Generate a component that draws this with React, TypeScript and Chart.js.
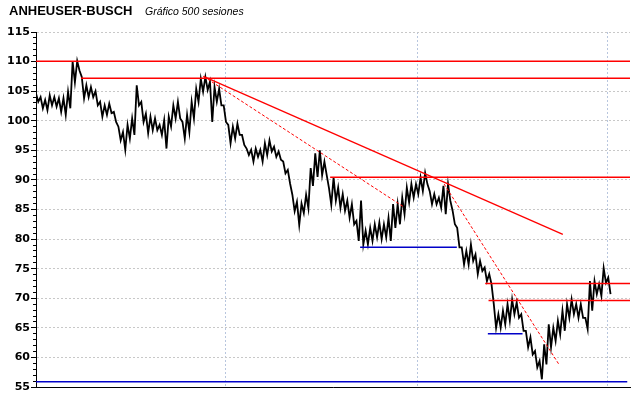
import React, { useEffect, useRef } from 'react';
import { Chart, registerables } from 'chart.js';

Chart.register(...registerables);

const TITLE = 'ANHEUSER-BUSCH';
const SUBTITLE = 'Gráfico 500 sesiones';

// one sample every SESSION_STEP sessions (session 0 .. 500)
const SESSION_STEP = 4;
const HIGHS = [
  104.6, 104.0, 103.5, 104.3, 104.0, 103.8, 103.8, 104.9, 110.0, 110.1,
  107.4, 106.0, 105.7, 105.0, 103.2, 102.6, 102.9, 101.5, 99.0, 98.1,
  99.3, 100.4, 106.0, 103.2, 101.2, 100.7, 100.4, 99.3, 100.1, 100.7,
  102.6, 103.2, 99.8, 101.0, 103.2, 105.4, 107.1, 107.4, 106.6, 105.7,
  105.4, 102.6, 99.3, 99.0, 99.5, 97.6, 95.3, 95.1, 95.3, 95.1,
  96.2, 96.7, 95.6, 94.8, 93.1, 91.7, 87.5, 86.3, 86.0, 87.5,
  92.0, 94.5, 95.0, 93.1, 88.6, 90.4, 88.7, 87.6, 86.5, 85.9,
  83.1, 86.5, 81.4, 81.9, 82.5, 82.8, 82.5, 83.6, 85.9, 85.9,
  87.0, 88.7, 89.3, 89.3, 90.4, 91.2, 88.1, 87.6, 87.0, 89.0,
  89.3, 84.8, 81.9, 78.6, 78.0, 79.1, 77.4, 76.3, 75.2, 74.1,
  69.0, 67.3, 67.9, 69.0, 69.8, 69.3, 67.3, 64.5, 63.4, 61.1,
  59.4, 62.2, 65.6, 65.0, 66.2, 67.9, 69.0, 69.8, 69.0, 69.0,
  66.7, 72.9, 72.9, 72.4, 75.1, 73.5,
];
const LOWS = [
  103.2, 102.1, 101.8, 102.6, 102.4, 101.5, 101.0, 102.1, 106.5, 108.5,
  103.8, 104.0, 104.0, 102.6, 100.7, 101.0, 101.3, 99.8, 96.7, 95.1,
  97.0, 97.6, 102.6, 99.8, 97.9, 98.4, 98.4, 97.6, 95.3, 99.0,
  100.4, 100.4, 97.0, 98.1, 100.4, 103.2, 104.9, 105.2, 99.8, 103.2,
  102.6, 99.8, 96.2, 97.0, 97.6, 95.9, 94.2, 93.1, 93.9, 93.1,
  94.2, 94.8, 93.9, 93.4, 91.1, 89.4, 84.7, 82.4, 84.4, 85.2,
  89.0, 90.5, 90.8, 90.8, 85.8, 86.5, 85.3, 84.8, 83.6, 82.5,
  79.7, 79.1, 79.1, 79.7, 80.3, 80.0, 80.3, 79.7, 81.9, 82.5,
  84.2, 86.2, 87.0, 87.6, 88.1, 89.3, 85.9, 85.9, 85.3, 84.2,
  86.5, 82.5, 78.6, 75.7, 75.7, 76.3, 74.1, 74.6, 72.9, 72.4,
  65.0, 65.0, 65.6, 66.2, 67.3, 66.7, 64.5, 61.7, 60.5, 58.3,
  56.3, 58.8, 61.7, 62.8, 63.9, 64.5, 66.7, 67.3, 66.7, 66.7,
  64.8, 67.9, 70.7, 70.4, 72.6, 70.7,
];

const Y_MIN = 55;
const Y_MAX = 115;
const MAJOR_TICKS = [55, 60, 65, 70, 75, 80, 85, 90, 95, 100, 105, 110, 115];
const X_MAX = 519;
const SESSION_GRID = [166, 333, 499];

// horizontal levels (price, start session, end session)
const RED_LEVELS = [110.05, 107.2, 90.45, 72.5, 69.6];
const RED_LEVEL_START = [0, 39.3, 257, 392.5, 395.4];
const RED_LEVEL_END = [519, 519, 519, 519, 519];
const BLUE_LEVELS = [78.6, 64.0, 55.9];
const BLUE_LEVEL_START = [283.2, 394.8, 0];
const BLUE_LEVEL_END = [367.7, 425.1, 516.6];

// trend lines: [session, price] endpoints
const TREND_MAIN = [[146.3, 107.5], [460.3, 80.8]];
const TREND_DOT_1 = [[146.3, 107.5], [321.1, 85.47]];
const TREND_DOT_2 = [[356.6, 89.3], [457.4, 58.67]];

const RED = '#ff0000';
const BLUE = '#0000c8';

export default function App() {
  const ref = useRef<HTMLCanvasElement | null>(null);

  useEffect(() => {
    const canvas = ref.current;
    if (!canvas) return;

    const pricePoints: { x: number; y: number }[] = [];
    HIGHS.forEach((h, i) => {
      pricePoints.push({ x: i * SESSION_STEP, y: h });
      pricePoints.push({ x: i * SESSION_STEP + SESSION_STEP / 2, y: LOWS[i] });
    });

    const seg = (pts: number[][]) => pts.map(([x, y]) => ({ x, y }));

    const datasets: any[] = [];
    datasets.push({ data: seg(TREND_MAIN), borderColor: RED, borderWidth: 1.3 });
    datasets.push({ data: seg(TREND_DOT_1), borderColor: RED, borderWidth: 1, borderDash: [3, 2] });
    datasets.push({ data: seg(TREND_DOT_2), borderColor: RED, borderWidth: 1, borderDash: [3, 2] });
    RED_LEVELS.forEach((v, i) => {
      datasets.push({
        data: [{ x: RED_LEVEL_START[i], y: v }, { x: RED_LEVEL_END[i], y: v }],
        borderColor: RED,
        borderWidth: 1.5,
      });
    });
    BLUE_LEVELS.forEach((v, i) => {
      datasets.push({
        data: [{ x: BLUE_LEVEL_START[i], y: v }, { x: BLUE_LEVEL_END[i], y: v }],
        borderColor: BLUE,
        borderWidth: 1.5,
      });
    });
    datasets.push({
      data: pricePoints,
      borderColor: '#000',
      borderWidth: 1.8,
      borderJoinStyle: 'miter',
    });

    const chart = new Chart(canvas, {
      type: 'line',
      data: { datasets },
      options: {
        animation: false,
        responsive: false,
        maintainAspectRatio: false,
        layout: { padding: { top: 32, right: 10, left: 0, bottom: 0 } },
        plugins: {
          legend: { display: false },
          tooltip: { enabled: false },
          title: { display: false },
        },
        elements: {
          point: { radius: 0, hoverRadius: 0 },
          line: { tension: 0, fill: false },
        },
        scales: {
          x: {
            type: 'linear',
            min: 0,
            max: X_MAX,
            afterBuildTicks: (s: any) => {
              s.ticks = SESSION_GRID.map((v) => ({ value: v }));
            },
            ticks: { display: false },
            grid: { color: '#b8c6de', drawTicks: false, lineWidth: 1 },
            border: { color: '#000', width: 1, dash: [2, 2] },
            afterFit: (s: any) => {
              s.height = 11;
            },
          },
          y: {
            type: 'linear',
            min: Y_MIN,
            max: Y_MAX,
            afterBuildTicks: (s: any) => {
              const t: { value: number }[] = [];
              for (let v = Y_MIN; v <= Y_MAX; v++) t.push({ value: v });
              s.ticks = t;
            },
            ticks: {
              autoSkip: false,
              padding: 1,
              color: '#000',
              font: { family: 'DejaVu Sans', size: 11, weight: 'bold' },
              callback: (v: any) => (MAJOR_TICKS.includes(Number(v)) ? String(v) : ''),
            },
            grid: {
              color: (c: any) =>
                c.tick && MAJOR_TICKS.includes(c.tick.value) ? '#c8c8c8' : 'rgba(0,0,0,0)',
              tickColor: '#000',
              tickLength: 5,
              tickWidth: 1,
              tickBorderDash: (c: any) =>
                c.tick && MAJOR_TICKS.includes(c.tick.value) ? [] : [0, 2, 3, 20],
            },
            border: { color: '#000', width: 1, dash: [2, 2] },
            afterFit: (s: any) => {
              s.width = 36;
            },
          },
        },
      },
    });

    return () => chart.destroy();
  }, []);

  return (
    <div
      style={{
        position: 'fixed',
        left: 0,
        top: 0,
        width: 640,
        height: 398,
        background: '#fff',
        overflow: 'hidden',
      }}
    >
      <canvas ref={ref} width={640} height={398} style={{ display: 'block', width: 640, height: 398 }} />
      <div
        style={{
          position: 'absolute',
          left: 9,
          top: 4,
          font: 'bold 13px "Liberation Sans", Arial, sans-serif',
          lineHeight: '13px',
          color: '#000',
          whiteSpace: 'nowrap',
        }}
      >
        {TITLE}
      </div>
      <div
        style={{
          position: 'absolute',
          left: 145,
          top: 6,
          font: 'italic 10.5px "Liberation Sans", Arial, sans-serif',
          lineHeight: '10.5px',
          color: '#000',
          whiteSpace: 'nowrap',
        }}
      >
        {SUBTITLE}
      </div>
    </div>
  );
}
